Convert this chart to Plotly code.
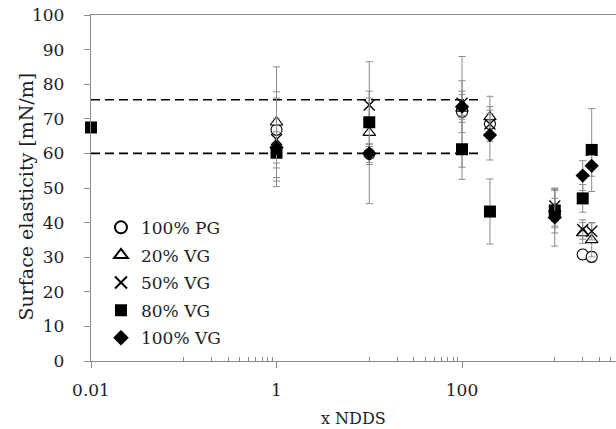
import plotly.graph_objects as go

# x positions (NDDS multiples) and surface elasticity values [mN/m] per formulation
pg100_x = [1, 10, 100, 200, 1000, 2000, 2500]
pg100_y = [66.8, 59.8, 72.0, 68.5, 43.0, 30.8, 30.1]
pg100_err = [11.0, 3.0, 16.0, 5.0, 4.0, 1.5, 1.5]

vg20_x = [1, 10, 100, 200, 1000, 2000, 2500]
vg20_y = [69.0, 66.0, 73.0, 70.5, 44.0, 37.0, 35.0]
vg20_err = [16.0, 20.5, 4.0, 6.0, 5.5, 3.0, 4.9]

vg50_x = [1, 10, 100, 200, 1000, 2000, 2500]
vg50_y = [64.0, 74.0, 74.5, 68.5, 44.8, 38.0, 37.5]
vg50_err = [12.0, 4.0, 3.5, 3.0, 4.5, 2.8, 2.5]

vg80_x = [0.01, 1, 10, 100, 200, 1000, 2000, 2500]
vg80_y = [67.5, 60.2, 69.0, 61.2, 43.2, 43.5, 47.0, 61.0]
vg80_err = [0.0, 9.8, 7.0, 8.7, 9.4, 6.5, 4.0, 12.0]

vg100_x = [1, 10, 100, 200, 1000, 2000, 2500]
vg100_y = [61.7, 60.0, 73.5, 65.3, 41.5, 53.6, 56.4]
vg100_err = [4.5, 2.6, 7.5, 7.2, 8.3, 4.3, 3.0]

# reference band drawn as dashed horizontal lines
ref_levels = [75.5, 60.0]
ref_x_span = [0.01, 160]

y_ticks = list(range(0, 101, 10))
x_major_ticks = [0.01, 1, 100]
x_major_labels = ["0.01", "1", "100"]
x_minor_ticks = ([round(0.1 * k, 1) for k in range(1, 10)]
                 + [10 * k for k in range(1, 10)]
                 + [1000 * k for k in range(1, 10)])

AXIS_GREY = "#8c8c8c"
FONT = "DejaVu Serif"
TEXT = "#1e1e1e"

fig = go.Figure()

for lvl in ref_levels:
    fig.add_trace(go.Scatter(
        x=ref_x_span, y=[lvl, lvl], mode="lines",
        line=dict(color="black", width=1.6, dash="9px,5px"),
        showlegend=False, hoverinfo="skip"))

series = [
    ("100% PG", pg100_x, pg100_y, pg100_err,
     dict(symbol="circle", size=11, color="white", line=dict(color="black", width=1.1))),
    ("20% VG", vg20_x, vg20_y, vg20_err,
     dict(symbol="triangle-up", size=11, color="white", line=dict(color="black", width=1.1))),
    ("50% VG", vg50_x, vg50_y, vg50_err,
     dict(symbol="x-thin-open", size=11, color="black", line=dict(color="black", width=1.3))),
    ("80% VG", vg80_x, vg80_y, vg80_err,
     dict(symbol="square", size=12, color="black", line=dict(color="black", width=0))),
    ("100% VG", vg100_x, vg100_y, vg100_err,
     dict(symbol="diamond", size=11, color="black", line=dict(color="black", width=0))),
]

for i, (name, xs, ys, errs, mk) in enumerate(series):
    fig.add_trace(go.Scatter(
        x=xs, y=ys, mode="markers", name=name, marker=mk,
        legendgroup=f"g{i}", cliponaxis=False,
        error_y=dict(type="data", array=errs, visible=True,
                     color=AXIS_GREY, thickness=1, width=3.5)))

fig.update_layout(
    width=616, height=429,
    margin=dict(l=91, r=0, t=15, b=68),
    paper_bgcolor="white", plot_bgcolor="white",
    font=dict(family=FONT, size=17, color=TEXT),
    showlegend=True,
    legend=dict(x=0.019, y=0.437, xanchor="left", yanchor="top",
                bgcolor="rgba(0,0,0,0)", font=dict(family=FONT, size=17, color=TEXT),
                tracegroupgap=2.5, itemwidth=30, itemsizing="constant"),
    xaxis=dict(
        type="log", range=[-2, 3.66],
        tickmode="array", tickvals=x_major_ticks, ticktext=x_major_labels,
        ticks="outside", ticklen=6, tickcolor=AXIS_GREY, tickwidth=1,
        showline=True, linecolor=AXIS_GREY, linewidth=1.3, mirror=True,
        showgrid=False, zeroline=False,
        ticklabelstandoff=7,
        tickfont=dict(family=FONT, size=17, color=TEXT),
        minor=dict(tickmode="array", tickvals=x_minor_ticks, ticks="inside",
                   ticklen=4, tickcolor=AXIS_GREY, tickwidth=1, showgrid=False),
    ),
    xaxis2=dict(
        type="log", range=[-2, 3.66], overlaying="x", anchor="y",
        tickmode="array", tickvals=x_major_ticks, ticks="inside", ticklen=6,
        tickcolor=AXIS_GREY, tickwidth=1, showticklabels=False,
        showline=False, showgrid=False, zeroline=False,
    ),
    yaxis=dict(
        range=[0, 100], tickmode="array", tickvals=y_ticks,
        ticks="outside", ticklen=6, tickcolor=AXIS_GREY, tickwidth=1,
        showline=True, linecolor=AXIS_GREY, linewidth=1.3,
        showgrid=False, zeroline=False,
        ticklabelstandoff=16,
        tickfont=dict(family=FONT, size=17, color=TEXT),
    ),
)

fig.add_annotation(text="Surface elasticity [mN/m]", textangle=-90,
                   xref="paper", yref="paper", x=-0.124, y=0.475,
                   xanchor="center", yanchor="middle", showarrow=False,
                   font=dict(family=FONT, size=19, color=TEXT))
fig.add_annotation(text="x NDDS", xref="paper", yref="paper", x=0.5, y=-0.165,
                   xanchor="center", yanchor="middle", showarrow=False,
                   font=dict(family=FONT, size=16, color=TEXT))

fig.write_html("out.html")
